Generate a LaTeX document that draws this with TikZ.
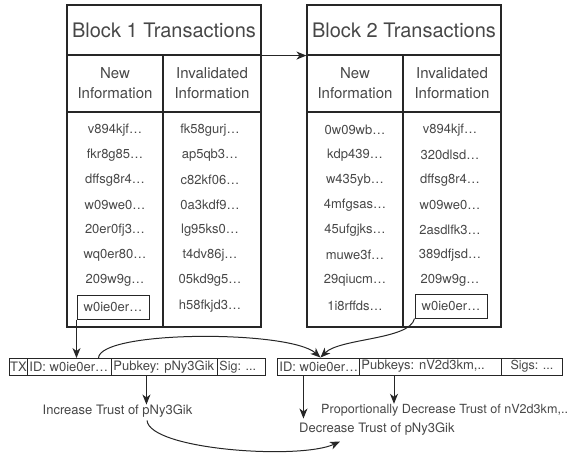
\documentclass[tikz,border=0pt]{standalone}
\usepackage{fontspec}
\setmainfont{TeX Gyre Heros}
\usepackage{xcolor}
\usepackage{tikz}
\usetikzlibrary{positioning,arrows.meta}

\newcommand{\fs}[1]{\fontsize{#1}{#1}\selectfont}
\newcommand{\lbox}[2]{\makebox[#1][l]{#2}}

\begin{document}
\begin{tikzpicture}[x=1pt,y=-1pt,
    every node/.style={text=black!72},
    cellbox/.style={draw=black!85,line width=1.1pt,inner sep=0pt},
    entry/.style={font=\fs{13},inner sep=0pt},
    txcell/.style={draw=black!85,line width=0.9pt,anchor=west,minimum height=17pt,
      inner xsep=2pt,inner ysep=0pt,font=\fs{13}},
    arr/.style={draw=black!85,line width=1pt,-{Stealth[length=10pt,width=8pt,inset=3pt]}}]
  \useasboundingbox (0,0) rectangle (574,458);
  % the two blocks
  \foreach \b/\x in {1/67,2/307} {
    \node[cellbox,minimum width=194pt,minimum height=50pt,font=\fs{20}]
      (b\b title) at (\x+97,30) {Block \b\ Transactions};
    \node[cellbox,minimum width=96pt,minimum height=57pt,align=center,
      font=\fontsize{15}{20}\selectfont] (b\b new) at (\x+48,83.5) {New\\Information};
    \node[cellbox,minimum width=98pt,minimum height=57pt,align=center,
      font=\fontsize{15}{20}\selectfont] (b\b inv) at (\x+145,83.5) {Invalidated\\Information};
    \node[cellbox,minimum width=96pt,minimum height=215pt] (b\b newcol) at (\x+48,219.5) {};
    \node[cellbox,minimum width=98pt,minimum height=215pt] (b\b invcol) at (\x+145,219.5) {};
  }
  \foreach \n/\v [count=\i] in {v894kjf…/fk58gurj…, fkr8g85…/ap5qb3…,
      dffsg8r4…/c82kf06…, w09we0…/0a3kdf9…, 20er0fj3…/lg95ks0…,
      wq0er80…/t4dv86j…, 209w9g…/05kd9g5…}
  {
    \node[entry] (b1n\i) at (115,105+25*\i) {\n};
    \node[entry] (b1v\i) at (210,105+25*\i) {\v};
  }
  \foreach \n/\v [count=\i] in {0w09wb…/v894kjf…, kdp439…/320dlsd…,
      w435yb…/dffsg8r4…, 4mfgsas…/w09we0…, 45ufgjks…/2asdlfk3…,
      muwe3f…/389dfjsd…, 29qiucm…/209w9g…}
  {
    \node[entry] (b2n\i) at (355,105+25*\i) {\n};
    \node[entry] (b2v\i) at (450,105+25*\i) {\v};
  }
  \node[entry,draw=black!85,line width=1pt,minimum width=72pt,minimum height=24pt]
    (b1sel) at (113,307) {w0ie0er…};
  \node[entry] (b1v8) at (210,306) {h58fkjd3…};
  \node[entry] (b2n8) at (355,306) {1i8rffds…};
  \node[entry,draw=black!85,line width=1pt,minimum width=72pt,minimum height=24pt]
    (b2sel) at (451,306) {w0ie0er…};
  \draw[arr] (b1title.south east) -- (b2title.south west);

  % transaction rows
  \node[txcell,minimum width=18pt,inner xsep=0pt] (tx1tx) at (9,367) {TX};
  \node[txcell] (tx1id) at (27,367) {\lbox{80pt}{ID: w0ie0er…}};
  \node[txcell] (tx1pk) at (111,367) {\lbox{102pt}{Pubkey: pNy3Gik}};
  \node[txcell] (tx1sig) at (217,367) {\lbox{44pt}{\fs{12.5}Sig: ...}};
  \node[txcell] (tx2id) at (277,366.5) {\lbox{78pt}{ID: w0ie0er…}};
  \node[txcell] (tx2pk) at (359,366.5) {\lbox{138pt}{Pubkeys: nV2d3km,..}};
  \node[txcell,minimum width=61pt] (tx2sig) at (501,366.5) {\fs{12.5}Sigs: ...};

  % trust updates
  \node[entry] (incr) at (117.5,411) {Increase Trust of pNy3Gik};
  \node[entry,anchor=west,font=\fs{12.6}] (prop) at (321,410) {Proportionally Decrease Trust of nV2d3km,..};
  \node[entry,anchor=west] (decr) at (299,429) {Decrease Trust of pNy3Gik};

  \draw[arr] (b1sel.south west) -- (b1sel.south west |- tx1id.north);
  \draw[arr] ([xshift=29pt]tx1id.north) .. controls (100,330) and (290,330)
    .. ([xshift=2pt]tx2id.north);
  \draw[arr] (b2sel.south west) .. controls (410,340) and (340,338)
    .. ([xshift=2pt]tx2id.north);
  \draw[arr] ([xshift=-18pt]tx1pk.south) -- ([xshift=-18pt]tx1pk.south |- incr.north);
  \draw[arr,shorten >=4pt] ([xshift=-15pt]tx2id.south) -- ([xshift=-15pt]tx2id.south |- decr.north);
  \draw[arr] ([xshift=35pt]tx2pk.south west) -- ([xshift=35pt]tx2pk.south west |- prop.north);
  \draw[arr] ([xshift=29.5pt,yshift=-3pt]incr.south) .. controls (150,450) and (300,460)
    .. ([xshift=41pt,yshift=-6pt]decr.south west);
\end{tikzpicture}
\end{document}
